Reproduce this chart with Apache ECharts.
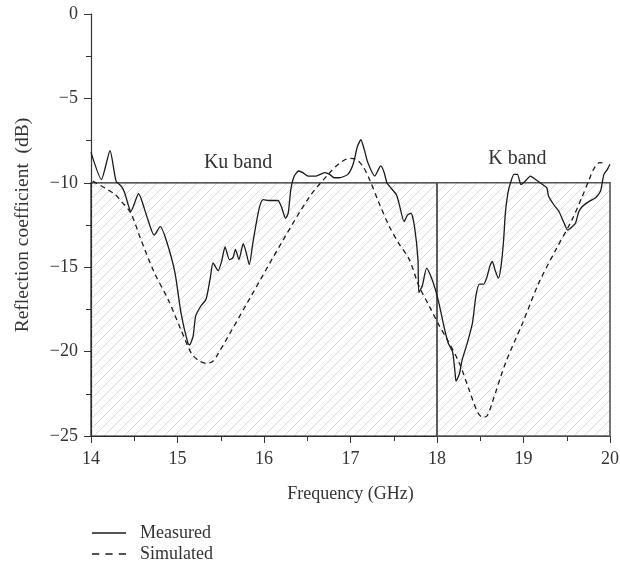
<!DOCTYPE html>
<html>
<head>
  <meta charset="utf-8">
  <title>Reflection coefficient</title>
  <script src="https://cdn.jsdelivr.net/npm/echarts@6/dist/echarts.min.js"></script>
  <style>
    html, body { margin: 0; padding: 0; background: #fff; }
  </style>
</head>
<body>
  <div id="main" style="width:620px;height:571px;"></div>
  <script type="text/javascript">
    // measured curve (GHz, dB)
    var measuredFreq = [14.00, 14.12, 14.22, 14.29, 14.35, 14.39, 14.43, 14.46, 14.55, 14.64, 14.73, 14.80, 14.87, 14.97, 15.04, 15.12, 15.14, 15.18, 15.21, 15.27, 15.33, 15.38, 15.41, 15.47, 15.51, 15.55, 15.60, 15.64, 15.67, 15.71, 15.76, 15.79, 15.83, 15.87, 15.91, 15.95, 15.99, 16.06, 16.16, 16.20, 16.25, 16.28, 16.31, 16.35, 16.40, 16.45, 16.51, 16.60, 16.70, 16.76, 16.81, 16.87, 16.97, 17.03, 17.08, 17.12, 17.16, 17.20, 17.28, 17.35, 17.39, 17.42, 17.45, 17.53, 17.56, 17.62, 17.66, 17.70, 17.74, 17.78, 17.79, 17.83, 17.88, 17.93, 17.98, 18.03, 18.08, 18.13, 18.18, 18.21, 18.22, 18.26, 18.29, 18.35, 18.41, 18.45, 18.49, 18.54, 18.58, 18.61, 18.64, 18.67, 18.71, 18.74, 18.77, 18.79, 18.82, 18.85, 18.89, 18.93, 18.97, 19.02, 19.08, 19.14, 19.22, 19.27, 19.29, 19.35, 19.41, 19.47, 19.51, 19.54, 19.60, 19.64, 19.68, 19.76, 19.83, 19.89, 19.91, 19.93, 19.97, 20.00];
    var measuredDb = [-8.2, -9.8, -8.1, -9.9, -10.2, -10.6, -11.3, -11.7, -10.65, -11.9, -13.1, -12.6, -13.4, -15.3, -17.7, -19.5, -19.6, -19.1, -17.9, -17.3, -16.9, -15.6, -14.75, -15.2, -14.65, -13.8, -14.55, -14.45, -13.95, -14.55, -13.6, -14.05, -14.85, -13.6, -12.4, -11.4, -11.0, -11.05, -11.05, -11.4, -12.1, -11.8, -10.4, -9.6, -9.3, -9.4, -9.6, -9.6, -9.4, -9.5, -9.7, -9.7, -9.5, -8.9, -7.85, -7.45, -8.05, -8.8, -9.6, -9.0, -9.4, -10.0, -10.2, -10.7, -11.2, -12.3, -11.9, -11.8, -12.6, -14.55, -16.5, -16.1, -15.05, -15.55, -16.3, -17.3, -18.5, -19.5, -20.0, -21.3, -21.75, -21.3, -20.5, -19.5, -18.3, -16.7, -16.0, -16.0, -15.55, -14.95, -14.65, -15.15, -15.65, -14.95, -13.4, -11.8, -10.6, -10.0, -9.5, -9.5, -10.1, -9.9, -9.6, -9.8, -10.1, -10.3, -10.8, -11.3, -11.7, -12.4, -12.8, -12.7, -12.4, -11.7, -11.4, -11.1, -10.9, -10.5, -10.0, -9.5, -9.2, -8.9];

    // simulated curve (GHz, dB)
    var simulatedFreq = [14.02, 14.16, 14.28, 14.35, 14.46, 14.58, 14.73, 14.89, 15.04, 15.16, 15.25, 15.34, 15.40, 15.45, 15.83, 16.22, 16.53, 16.76, 16.87, 16.99, 17.06, 17.14, 17.22, 17.33, 17.45, 17.56, 17.68, 17.79, 17.91, 18.03, 18.12, 18.26, 18.37, 18.47, 18.53, 18.58, 18.64, 18.79, 18.99, 19.18, 19.37, 19.56, 19.68, 19.76, 19.81, 19.88, 19.95];
    var simulatedDb = [-9.9, -10.3, -10.7, -11.1, -11.8, -13.4, -15.3, -16.9, -18.7, -20.1, -20.55, -20.7, -20.6, -20.3, -16.9, -13.4, -10.8, -9.4, -8.85, -8.55, -8.6, -9.0, -9.8, -11.2, -12.6, -13.6, -14.55, -16.1, -17.3, -18.5, -19.3, -20.7, -22.25, -23.6, -23.9, -23.8, -23.0, -20.7, -18.3, -15.9, -14.0, -12.2, -10.8, -9.8, -9.2, -8.8, -8.85];

    // bands: name, start / end GHz, threshold level and label anchor
    var bandNames = ['Ku band', 'K band'];
    var bandStart = [14, 18];
    var bandEnd = [18, 20];
    var bandLevel = -10;
    var bandLabelFreq = [15.7, 18.93];
    var bandLabelDb = [-8.8, -8.6];

    function pairs(xs, ys) {
      var out = [];
      for (var i = 0; i < xs.length; i++) out.push([xs[i], ys[i]]);
      return out;
    }

    // diagonal hatch tile
    function hatch() {
      var s = 10;
      var c = document.createElement('canvas');
      c.width = s; c.height = s;
      var ctx = c.getContext('2d');
      ctx.strokeStyle = '#cdcdcd';
      ctx.lineWidth = 0.8;
      ctx.beginPath();
      ctx.moveTo(0, s); ctx.lineTo(s, 0);
      ctx.moveTo(-2, 2); ctx.lineTo(2, -2);
      ctx.moveTo(s - 2, s + 2); ctx.lineTo(s + 2, s - 2);
      ctx.stroke();
      return c;
    }
    var pattern = { image: hatch(), repeat: 'repeat' };

    var font = '"Liberation Serif", "DejaVu Serif", serif';
    var myChart = echarts.init(document.getElementById('main'));

    var areas = [];
    for (var i = 0; i < bandNames.length; i++) {
      areas.push([
        { coord: [bandStart[i], bandLevel],
          itemStyle: { color: pattern, borderColor: i === 0 ? '#222' : '#555', borderWidth: i === 0 ? 1.2 : 1.6 } },
        { coord: [bandEnd[i], -25] }
      ]);
    }
    var labels = [];
    for (var j = 0; j < bandNames.length; j++) {
      labels.push({ coord: [bandLabelFreq[j], bandLabelDb[j]], value: bandNames[j] });
    }

    var minus = function (v) { return String(v).replace('-', '\u2212'); };

    var option = {
      animation: false,
      textStyle: { fontFamily: font },
      grid: { left: 91, right: 10, top: 14, bottom: 135, outerBoundsMode: 'none', containLabel: false },
      legend: {
        orient: 'vertical',
        left: 92,
        top: 524,
        padding: 0,
        itemWidth: 34,
        itemHeight: 2,
        itemGap: 3,
        textStyle: { fontFamily: font, fontSize: 18, color: '#333', padding: [0, 0, 0, 9] },
        data: [
          { name: 'Measured', icon: 'path://M0,0H34V1.3H0Z' },
          { name: 'Simulated', icon: 'path://M0,0H7V1.3H0Z M13,0H20V1.3H13Z M26,0H33V1.3H26Z' }
        ]
      },
      xAxis: {
        type: 'value',
        min: 14, max: 20, interval: 1,
        name: 'Frequency (GHz)',
        nameLocation: 'middle',
        nameGap: 49,
        nameTextStyle: { fontFamily: font, fontSize: 18, color: '#333' },
        axisLine: { onZero: false, lineStyle: { color: '#333', width: 1.2 } },
        axisTick: { length: 7, lineStyle: { color: '#333' } },
        minorTick: { show: true, splitNumber: 2, length: 5, lineStyle: { color: '#333' } },
        axisLabel: { fontFamily: font, fontSize: 18, color: '#333', margin: 14 },
        splitLine: { show: false }
      },
      yAxis: {
        type: 'value',
        min: -25, max: 0, interval: 5,
        name: 'Reflection coefficient  (dB)',
        nameLocation: 'middle',
        nameGap: 58,
        nameTextStyle: { fontFamily: font, fontSize: 19.5, color: '#333' },
        axisLine: { show: true, onZero: false, lineStyle: { color: '#333', width: 1.2 } },
        axisTick: { show: true, length: 7, lineStyle: { color: '#333' } },
        minorTick: { show: true, splitNumber: 2, length: 5, lineStyle: { color: '#333' } },
        axisLabel: { fontFamily: font, fontSize: 18, color: '#333', margin: 13, formatter: minus },
        splitLine: { show: false }
      },
      series: [
        {
          name: 'Measured',
          type: 'line',
          data: pairs(measuredFreq, measuredDb),
          showSymbol: false,
          symbol: 'none',
          smooth: 0.2,
          z: 3,
          lineStyle: { color: '#1a1a1a', width: 1.3 },
          itemStyle: { color: '#1a1a1a' },
          markArea: { silent: true, z: 1, data: areas },
          markPoint: {
            silent: true,
            symbol: 'circle',
            symbolSize: 0,
            label: {
              show: true,
              position: 'inside',
              formatter: function (p) { return p.data.value; },
              fontFamily: font, fontSize: 20, color: '#333'
            },
            data: labels
          }
        },
        {
          name: 'Simulated',
          type: 'line',
          data: pairs(simulatedFreq, simulatedDb),
          showSymbol: false,
          symbol: 'none',
          smooth: 0.3,
          z: 2,
          lineStyle: { color: '#1a1a1a', width: 1.3, type: [5, 4] },
          itemStyle: { color: '#1a1a1a' }
        }
      ]
    };
    myChart.setOption(option);
  </script>
</body>
</html>
